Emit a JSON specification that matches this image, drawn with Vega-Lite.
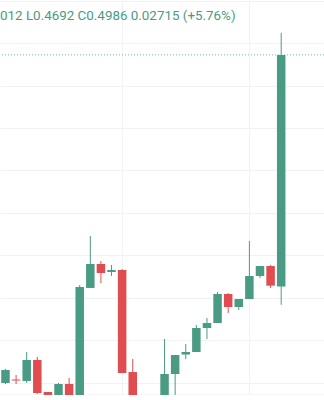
{
  "$schema": "https://vega.github.io/schema/vega-lite/v6.json",
  "width": 324,
  "height": 395,
  "autosize": {"type": "none"},
  "padding": 0,
  "background": "#ffffff",
  "title": {
    "text": "012 L0.4692 C0.4986 0.02715 (+5.76%)",
    "anchor": "start",
    "frame": "group",
    "orient": "top",
    "offset": -22,
    "dx": 0,
    "font": "Roboto",
    "fontSize": 13.4,
    "fontWeight": "normal",
    "color": "#4a9b83"
  },
  "config": {"view": {"stroke": null}},
  "data": {
    "values": [
      {"i": 0, "open": 0.46000, "high": 0.46165, "low": 0.45988, "close": 0.46153},
      {"i": 1, "open": 0.46041, "high": 0.46094, "low": 0.45988, "close": 0.46029},
      {"i": 2, "open": 0.46024, "high": 0.46365, "low": 0.46000, "close": 0.46271},
      {"i": 3, "open": 0.46271, "high": 0.46306, "low": 0.45871, "close": 0.45882},
      {"i": 4, "open": 0.45894, "high": 0.45894, "low": 0.45800, "close": 0.45835},
      {"i": 5, "open": 0.45800, "high": 0.46000, "low": 0.45776, "close": 0.45988},
      {"i": 6, "open": 0.45988, "high": 0.46059, "low": 0.45800, "close": 0.45824},
      {"i": 7, "open": 0.45824, "high": 0.47153, "low": 0.45800, "close": 0.47129},
      {"i": 8, "open": 0.47118, "high": 0.47729, "low": 0.47118, "close": 0.47400},
      {"i": 9, "open": 0.47400, "high": 0.47435, "low": 0.47176, "close": 0.47294},
      {"i": 10, "open": 0.47306, "high": 0.47388, "low": 0.47259, "close": 0.47329},
      {"i": 11, "open": 0.47329, "high": 0.47341, "low": 0.46118, "close": 0.46118},
      {"i": 12, "open": 0.46129, "high": 0.46282, "low": 0.45650, "close": 0.45682},
      {"i": 15, "open": 0.45741, "high": 0.46518, "low": 0.45720, "close": 0.46106},
      {"i": 16, "open": 0.46106, "high": 0.46329, "low": 0.45800, "close": 0.46329},
      {"i": 17, "open": 0.46335, "high": 0.46459, "low": 0.46282, "close": 0.46365},
      {"i": 18, "open": 0.46365, "high": 0.46682, "low": 0.46365, "close": 0.46647},
      {"i": 19, "open": 0.46647, "high": 0.46765, "low": 0.46518, "close": 0.46706},
      {"i": 20, "open": 0.46706, "high": 0.47071, "low": 0.46706, "close": 0.47047},
      {"i": 21, "open": 0.47047, "high": 0.47059, "low": 0.46824, "close": 0.46894},
      {"i": 22, "open": 0.46894, "high": 0.46988, "low": 0.46859, "close": 0.46988},
      {"i": 23, "open": 0.46988, "high": 0.47671, "low": 0.46988, "close": 0.47259},
      {"i": 24, "open": 0.47259, "high": 0.47376, "low": 0.47235, "close": 0.47376},
      {"i": 25, "open": 0.47376, "high": 0.47388, "low": 0.47118, "close": 0.47145},
      {"i": 26, "open": 0.47135, "high": 0.50120, "low": 0.46920, "close": 0.49860}
    ]
  },
  "layer": [
    {
      "transform": [{"filter": "datum.i == 26"}],
      "mark": {"type": "rule", "strokeDash": [1, 2], "strokeWidth": 1, "color": "#4a9b83", "opacity": 0.7},
      "encoding": {
        "y": {
          "field": "close",
          "type": "quantitative",
          "scale": {"domain": [0.458588, 0.505059], "nice": false, "zero": false},
          "axis": {
            "title": null,
            "labels": false,
            "ticks": false,
            "domain": false,
            "grid": true,
            "gridColor": "#f0f2f6",
            "gridWidth": 1,
            "values": [0.46, 0.465, 0.47, 0.475, 0.48, 0.485, 0.49, 0.495, 0.5, 0.505]
          }
        }
      }
    },
    {
      "mark": {"type": "rule", "strokeWidth": 1, "clip": true},
      "encoding": {
        "x": {
          "field": "i",
          "type": "quantitative",
          "scale": {"domain": [-0.0457, 29.565], "nice": false, "zero": false},
          "axis": {
            "title": null,
            "labels": false,
            "ticks": false,
            "domain": true,
            "domainColor": "#eeeef3",
            "domainWidth": 2,
            "grid": true,
            "gridColor": "#f0f2f6",
            "gridWidth": 1,
            "values": [11, 23]
          }
        },
        "y": {"field": "low", "type": "quantitative"},
        "y2": {"field": "high"},
        "color": {
          "condition": {"test": "datum.close >= datum.open", "value": "#4a9b83"},
          "value": "#e14c50"
        }
      }
    },
    {
      "mark": {"type": "bar", "width": 8.5, "clip": true},
      "encoding": {
        "x": {"field": "i", "type": "quantitative"},
        "y": {"field": "open", "type": "quantitative"},
        "y2": {"field": "close"},
        "color": {
          "condition": {"test": "datum.close >= datum.open", "value": "#4a9b83"},
          "value": "#e14c50"
        }
      }
    }
  ]
}
